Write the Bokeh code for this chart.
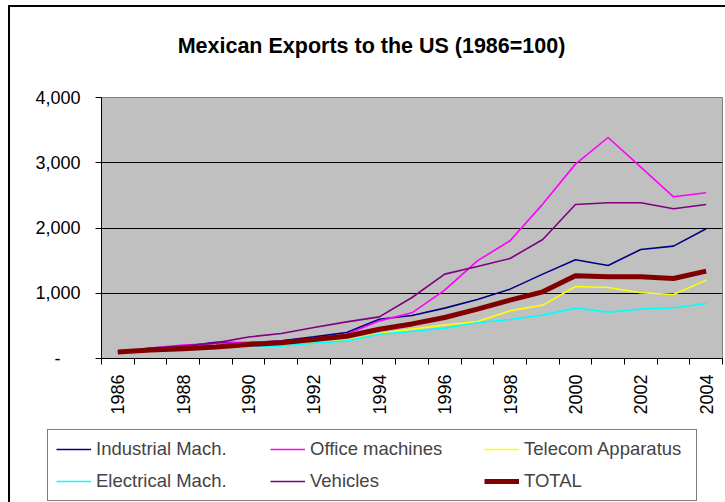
import math
from bokeh.plotting import figure
from bokeh.layouts import column
from bokeh.models import FixedTicker, Legend, LegendItem, Range1d, Label
from bokeh.embed import file_html
from bokeh.resources import INLINE

years = list(range(1986, 2005))
industrial = [100, 150, 185, 250, 240, 270, 332, 398, 602, 660, 772, 905, 1063, 1293, 1513, 1426, 1671, 1722, 1988]
office = [100, 160, 205, 230, 250, 265, 300, 372, 577, 700, 1048, 1497, 1804, 2366, 2979, 3387, 2933, 2478, 2540]
telecom = [100, 130, 150, 165, 184, 194, 240, 280, 383, 450, 511, 567, 731, 818, 1104, 1088, 1007, 981, 1201]
electrical = [100, 140, 155, 170, 190, 190, 235, 270, 372, 415, 466, 547, 598, 665, 772, 711, 757, 777, 843]
vehicles = [100, 160, 190, 240, 330, 383, 474, 561, 638, 935, 1293, 1410, 1533, 1824, 2360, 2386, 2386, 2294, 2360]
total = [100, 130, 150, 178, 215, 240, 291, 342, 449, 530, 628, 757, 895, 1022, 1267, 1252, 1252, 1226, 1339]

title_text = "Mexican Exports to the US (1986=100)"
series_names = ["Industrial Mach.", "Office machines", "Telecom Apparatus",
                "Electrical Mach.", "Vehicles", "TOTAL"]
series_values = [industrial, office, telecom, electrical, vehicles, total]
series_colors = ["#000080", "#FF00FF", "#FFFF00", "#00FFFF", "#800080", "#800000"]
series_widths = [1.6, 1.6, 1.6, 1.6, 1.6, 5]

y_ticks = [0, 1000, 2000, 3000, 4000]
y_labels = {0: "-\u2007\u2007\u200b", 1000: "1,000", 2000: "2,000", 3000: "3,000", 4000: "4,000"}
x_label_years = list(range(1986, 2005, 2))

FONT = "Liberation Sans"
W = 715

# ---- title strip ----
HEAD_H = 78
head = figure(width=W, height=HEAD_H, output_backend="svg", toolbar_location=None,
              x_range=Range1d(0, W), y_range=Range1d(0, HEAD_H),
              x_axis_type=None, y_axis_type=None,
              min_border_left=0, min_border_right=0, min_border_top=0, min_border_bottom=0,
              background_fill_color="white", border_fill_color="white")
head.title_location = None
head.frame_align = False
head.outline_line_color = None
head.xgrid.visible = False
head.ygrid.visible = False
head.add_layout(Label(x=361, y=40, text=title_text, text_font=FONT,
                      text_font_size="21.5px", text_font_style="bold",
                      text_color="black", text_align="center",
                      text_baseline="alphabetic"))

# ---- chart ----
p = figure(width=W, height=342, output_backend="svg", toolbar_location=None,
           x_range=Range1d(1985.5, 2004.5), y_range=Range1d(0, 4000),
           min_border_left=91, min_border_right=3, min_border_top=12,
           min_border_bottom=69, background_fill_color="#C0C0C0",
           border_fill_color="white")
p.title_location = None
p.outline_line_color = "#808080"
p.outline_line_width = 1

p.xaxis.ticker = FixedTicker(ticks=x_label_years,
                             minor_ticks=[y - 0.5 for y in years] + [years[-1] + 0.5])
p.xaxis.major_tick_out = 0
p.xaxis.major_tick_in = 0
p.xaxis.minor_tick_out = 6
p.xaxis.minor_tick_in = 0
p.xaxis.minor_tick_line_color = "black"
p.xaxis.axis_line_color = "black"
p.xaxis.major_label_orientation = math.pi / 2
p.xaxis.major_label_standoff = 10
p.xaxis.major_label_text_font = FONT
p.xaxis.major_label_text_font_size = "18px"
p.xaxis.major_label_text_color = "black"

p.yaxis.ticker = FixedTicker(ticks=y_ticks)
p.yaxis.major_label_overrides = y_labels
p.yaxis.major_tick_out = 6
p.yaxis.major_tick_in = 0
p.yaxis.minor_tick_out = 0
p.yaxis.minor_tick_in = 0
p.yaxis.axis_line_color = "black"
p.yaxis.major_tick_line_color = "black"
p.yaxis.major_label_standoff = 15
p.yaxis.major_label_text_font = FONT
p.yaxis.major_label_text_font_size = "18px"
p.yaxis.major_label_text_color = "black"

p.xgrid.visible = False
p.ygrid.ticker = FixedTicker(ticks=y_ticks)
p.ygrid.grid_line_color = "black"
p.ygrid.grid_line_width = 1

for name, vals, col, w in zip(series_names, series_values, series_colors, series_widths):
    p.line(years, vals, line_color=col, line_width=w)

# ---- legend strip ----
lg = figure(width=W, height=75, output_backend="svg", toolbar_location=None,
            x_range=Range1d(0, 1), y_range=Range1d(0, 1),
            x_axis_type=None, y_axis_type=None,
            min_border_left=0, min_border_right=0, min_border_top=0, min_border_bottom=0,
            background_fill_color="white", border_fill_color="white")
lg.title_location = None
lg.frame_align = False
lg.outline_line_color = None
lg.xgrid.visible = False
lg.ygrid.visible = False
legend_renderers = []
for name, col, w in zip(series_names, series_colors, series_widths):
    legend_renderers.append(lg.line([-10, -9], [-10, -9], line_color=col, line_width=w))

items = [LegendItem(label=n, renderers=[r]) for n, r in zip(series_names, legend_renderers)]
legend = Legend(items=items, location=(37, 1), orientation="horizontal", ncols=3,
                label_text_font=FONT, label_text_font_size="18.5px",
                glyph_width=35, glyph_height=20, label_standoff=5,
                label_width=164, label_height=20, spacing=10, padding=8, margin=0,
                border_line_color="black", border_line_width=1,
                background_fill_color="white", background_fill_alpha=1)
lg.add_layout(legend, "center")

page = column(head, p, lg, spacing=0,
              styles={"border-left": "2px solid black", "border-top": "2px solid black",
                      "margin-left": "8px", "margin-top": "5px"})

open("out.html", "w").write(file_html(page, INLINE))
